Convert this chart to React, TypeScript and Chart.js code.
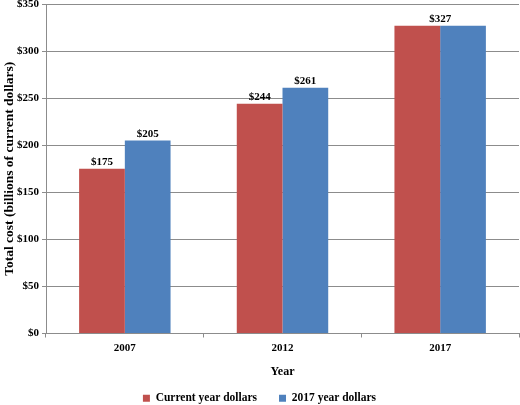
import React, { useEffect, useRef } from "react";
import { Chart, registerables } from "chart.js";

Chart.register(...registerables);

const categories = ["2007", "2012", "2017"];
const currentYearDollars = [175, 244, 327];
const year2017Dollars = [205, 261, 327];
const seriesNames = ["Current year dollars", "2017 year dollars"];
const yTicks = [0, 50, 100, 150, 200, 250, 300, 350];

const FONT = "'Liberation Serif', 'Times New Roman', serif";

const valueLabels = {
  id: "valueLabels",
  afterDatasetsDraw(chart: any) {
    const ctx = chart.ctx;
    ctx.save();
    ctx.font = `bold 11px ${FONT}`;
    ctx.fillStyle = "#000";
    ctx.textAlign = "center";
    ctx.textBaseline = "alphabetic";
    const m0 = chart.getDatasetMeta(0);
    const m1 = chart.getDatasetMeta(1);
    const d0 = chart.data.datasets[0].data;
    const d1 = chart.data.datasets[1].data;
    for (let i = 0; i < d0.length; i++) {
      const e0 = m0.data[i];
      const e1 = m1.data[i];
      if (d0[i] === d1[i]) {
        ctx.fillText("$" + d0[i], (e0.x + e1.x) / 2, e0.y - 4);
      } else {
        ctx.fillText("$" + d0[i], e0.x, e0.y - 4);
        ctx.fillText("$" + d1[i], e1.x, e1.y - 4);
      }
    }
    ctx.restore();
  },
};

export default function App() {
  const ref = useRef<HTMLCanvasElement | null>(null);
  useEffect(() => {
    if (!ref.current) return;
    Chart.defaults.font.family = FONT;
    const chart = new Chart(ref.current, {
      type: "bar",
      data: {
        labels: categories,
        datasets: [
          {
            label: seriesNames[0],
            data: currentYearDollars,
            backgroundColor: "#C0504D",
            categoryPercentage: 0.58,
            barPercentage: 1.0,
          },
          {
            label: seriesNames[1],
            data: year2017Dollars,
            backgroundColor: "#4F81BD",
            categoryPercentage: 0.58,
            barPercentage: 1.0,
          },
        ],
      },
      options: {
        animation: false,
        responsive: true,
        maintainAspectRatio: false,
        layout: { padding: { left: 0, top: 4, right: 1, bottom: -9 } },
        plugins: {
          tooltip: { enabled: false },
          legend: {
            position: "bottom",
            labels: {
              boxWidth: 7,
              boxHeight: 7,
              padding: 22,
              color: "#000",
              font: { family: FONT, size: 11.5, weight: "bold" },
            },
          },
        },
        scales: {
          x: {
            grid: {
              display: true,
              drawOnChartArea: false,
              drawTicks: true,
              tickLength: 4,
              offset: true,
              color: "#8c8c8c",
            },
            border: { color: "#8c8c8c" },
            ticks: {
              color: "#000",
              padding: 4,
              font: { family: FONT, size: 11, weight: "bold" },
            },
            title: {
              display: true,
              text: "Year",
              color: "#000",
              padding: { top: 0, bottom: -9 },
              font: { family: FONT, size: 12, weight: "bold" },
            },
            afterFit(scale: any) {
              scale.height = 37;
            },
          },
          y: {
            min: 0,
            max: 350,
            afterBuildTicks(scale: any) {
              scale.ticks = yTicks.map((v) => ({ value: v }));
            },
            grid: {
              color: "#8c8c8c",
              tickLength: 4,
            },
            border: { color: "#8c8c8c" },
            ticks: {
              color: "#000",
              padding: 3,
              font: { family: FONT, size: 11, weight: "bold" },
              callback: (v: any) => "$" + v,
            },
            title: {
              display: true,
              text: "Total cost (billions of current dollars)",
              color: "#000",
              padding: { top: 1, bottom: 0 },
              font: { family: FONT, size: 13.5, weight: "bold" },
            },
            afterFit(scale: any) {
              scale.width = 46;
              scale.paddingTop = 0;
              scale.paddingBottom = 0;
            },
          },
        },
      },
      plugins: [valueLabels],
    });
    return () => chart.destroy();
  }, []);
  return (
    <div style={{ position: "absolute", left: 0, top: 0, width: 520, height: 405, background: "#fff" }}>
      <canvas ref={ref} />
    </div>
  );
}
